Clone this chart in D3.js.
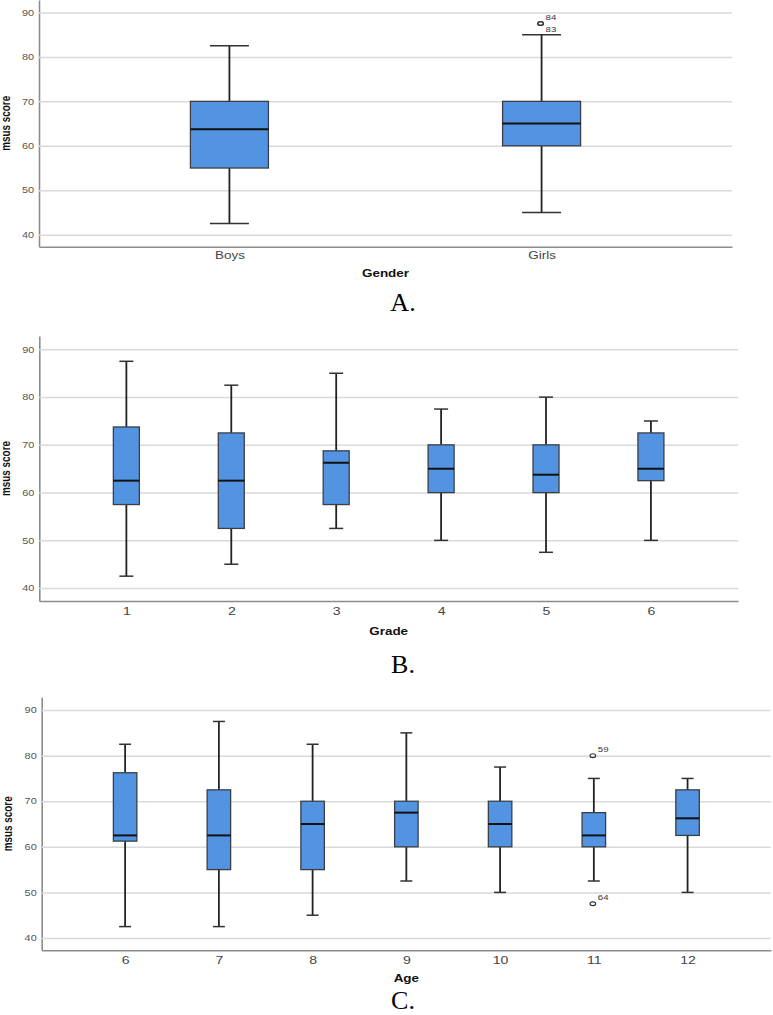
<!DOCTYPE html>
<html><head><meta charset="utf-8">
<script src="https://cdn.jsdelivr.net/npm/d3@7"></script>
<style>
html,body{margin:0;padding:0;background:#fff;}
svg{display:block;}
</style></head>
<body>
<svg id="chart" width="773" height="1015"></svg>
<script>
// ---- Data ----
const yTicks = [40, 50, 60, 70, 80, 90];

const genderCats = ["Boys", "Girls"];
const genderMin = [42.5, 45];
const genderQ1  = [55, 60];
const genderMed = [63.75, 65];
const genderQ3  = [70, 70];
const genderMax = [82.5, 85];
const genderOutCat   = ["Girls", "Girls"];
const genderOutVal   = [87.5, 87.5];
const genderOutLabel = ["84", "83"];

const gradeCats = ["1", "2", "3", "4", "5", "6"];
const gradeMin = [42.5, 45, 52.5, 50, 47.5, 50];
const gradeQ1  = [57.5, 52.5, 57.5, 60, 60, 62.5];
const gradeMed = [62.5, 62.5, 66.25, 65, 63.75, 65];
const gradeQ3  = [73.75, 72.5, 68.75, 70, 70, 72.5];
const gradeMax = [87.5, 82.5, 85, 77.5, 80, 75];

const ageCats = ["6", "7", "8", "9", "10", "11", "12"];
const ageMin = [42.5, 42.5, 45, 52.5, 50, 52.5, 50];
const ageQ1  = [61.25, 55, 55, 60, 60, 60, 62.5];
const ageMed = [62.5, 62.5, 65, 67.5, 65, 62.5, 66.25];
const ageQ3  = [76.25, 72.5, 70, 70, 70, 67.5, 72.5];
const ageMax = [82.5, 87.5, 82.5, 85, 77.5, 75, 75];
const ageOutCat   = ["11", "11"];
const ageOutVal   = [80, 47.5];
const ageOutLabel = ["59", "64"];

// ---- Layout ----
const svg = d3.select("#chart");
const SANS = "'Liberation Sans', Arial, sans-serif";
const STRETCH = 1.28;

function stretch(sel){
  sel.each(function(){
    const w = this.getComputedTextLength();
    if (w > 0) d3.select(this).attr("textLength", w * STRETCH).attr("lengthAdjust", "spacingAndGlyphs");
  });
}

function panel(cfg){
  const g = svg.append("g");
  const y = d3.scaleLinear().domain([37.3, 92.8]).range([cfg.bottom, cfg.top]);
  const x = d3.scalePoint().domain(cfg.cats).range([cfg.left, cfg.right]).padding(cfg.pad);
  const width = cfg.right - cfg.left;

  // gridlines + y axis
  const ya = g.append("g").attr("transform", `translate(${cfg.left},0)`)
    .call(d3.axisLeft(y).tickValues(yTicks).tickSizeInner(-width).tickSizeOuter(0).tickPadding(5).tickFormat(d3.format("d")));
  ya.select(".domain").attr("stroke", "#8c8c8c").attr("stroke-width", 1.6);
  ya.selectAll(".tick line").attr("stroke", "#dadada").attr("stroke-width", 1.5);
  ya.selectAll(".tick text").attr("fill", "#555").style("font-family", SANS).style("font-size", "8.5px");
  stretch(ya.selectAll(".tick text"));

  // x axis
  const xa = g.append("g").attr("transform", `translate(0,${cfg.bottom})`)
    .call(d3.axisBottom(x).tickSize(0).tickPadding(cfg.xPad));
  xa.select(".domain").attr("stroke", "#8c8c8c").attr("stroke-width", 1.6);
  xa.selectAll(".tick text").attr("fill", "#444").style("font-family", SANS).style("font-size", cfg.xFont + "px");
  stretch(xa.selectAll(".tick text"));

  // boxes
  const bw = cfg.boxW, cw = cfg.capW;
  const data = cfg.cats.map((c, i) => ({c, min: cfg.min[i], q1: cfg.q1[i], med: cfg.med[i], q3: cfg.q3[i], max: cfg.max[i]}));
  const bx = g.append("g").selectAll("g").data(data).join("g");
  bx.append("line").attr("x1", d => x(d.c)).attr("x2", d => x(d.c))
    .attr("y1", d => y(d.max)).attr("y2", d => y(d.q3)).attr("stroke", "#222").attr("stroke-width", 1.8);
  bx.append("line").attr("x1", d => x(d.c)).attr("x2", d => x(d.c))
    .attr("y1", d => y(d.q1)).attr("y2", d => y(d.min)).attr("stroke", "#222").attr("stroke-width", 1.8);
  bx.append("line").attr("x1", d => x(d.c) - cw/2).attr("x2", d => x(d.c) + cw/2)
    .attr("y1", d => y(d.max)).attr("y2", d => y(d.max)).attr("stroke", "#333").attr("stroke-width", 1.5);
  bx.append("line").attr("x1", d => x(d.c) - cw/2).attr("x2", d => x(d.c) + cw/2)
    .attr("y1", d => y(d.min)).attr("y2", d => y(d.min)).attr("stroke", "#333").attr("stroke-width", 1.5);
  bx.append("rect").attr("x", d => x(d.c) - bw/2).attr("width", bw)
    .attr("y", d => y(d.q3)).attr("height", d => y(d.q1) - y(d.q3))
    .attr("fill", "#5394e2").attr("stroke", "#3a3f47").attr("stroke-width", 1.3);
  bx.append("line").attr("x1", d => x(d.c) - bw/2).attr("x2", d => x(d.c) + bw/2)
    .attr("y1", d => y(d.med)).attr("y2", d => y(d.med)).attr("stroke", "#111").attr("stroke-width", 2);

  // outliers
  if (cfg.outCat){
    cfg.outCat.forEach((c, i) => {
      const cx = x(c) - 1, cy = y(cfg.outVal[i]);
      g.append("ellipse").attr("cx", cx).attr("cy", cy).attr("rx", 2.8).attr("ry", 1.9)
        .attr("fill", "none").attr("stroke", "#333").attr("stroke-width", 1.2);
      const dy = cfg.outDy[i];
      const t = g.append("text").attr("x", cx + 5).attr("y", cy + dy).text(cfg.outLabel[i])
        .attr("fill", "#333").style("font-family", SANS).style("font-size", "7.5px");
      stretch(t);
    });
  }

  // y title
  g.append("text")
    .attr("transform", `translate(${cfg.left - 29.5},${(cfg.top + cfg.bottom)/2}) rotate(-90)`)
    .attr("text-anchor", "middle").text("msus score")
    .attr("fill", "#111").style("font-family", SANS).style("font-size", "12px").style("font-weight", "bold")
    .attr("textLength", 55).attr("lengthAdjust", "spacingAndGlyphs");

  // x title
  const xt = g.append("text").attr("x", (cfg.left + cfg.right)/2).attr("y", cfg.bottom + cfg.titleDy)
    .attr("text-anchor", "middle").text(cfg.xTitle)
    .attr("fill", "#111").style("font-family", SANS).style("font-size", "10.5px").style("font-weight", "bold");
  stretch(xt);

  // panel letter
  svg.append("text").attr("x", 403).attr("y", cfg.letterY).attr("text-anchor", "middle")
    .text(cfg.letter).attr("fill", "#000")
    .style("font-family", "'Liberation Serif', 'Times New Roman', serif").style("font-size", "26px");
}

panel({cats: genderCats, min: genderMin, q1: genderQ1, med: genderMed, q3: genderQ3, max: genderMax,
  outCat: genderOutCat, outVal: genderOutVal, outLabel: genderOutLabel, outDy: [-3.5, 8.5],
  top: 0, bottom: 246.7, left: 39, right: 732, pad: 0.61, boxW: 78, capW: 39,
  xFont: 10.5, xPad: 5, xTitle: "Gender", titleDy: 30.5, letter: "A.", letterY: 311});

panel({cats: gradeCats, min: gradeMin, q1: gradeQ1, med: gradeMed, q3: gradeQ3, max: gradeMax,
  top: 336, bottom: 601, left: 39.3, right: 738, pad: 0.83, boxW: 26, capW: 14,
  xFont: 11, xPad: 6, xTitle: "Grade", titleDy: 34, letter: "B.", letterY: 673});

panel({cats: ageCats, min: ageMin, q1: ageQ1, med: ageMed, q3: ageQ3, max: ageMax,
  outCat: ageOutCat, outVal: ageOutVal, outLabel: ageOutLabel, outDy: [-4, -3.5],
  top: 697.3, bottom: 950.3, left: 41.7, right: 771, pad: 0.89, boxW: 23.5, capW: 12,
  xFont: 11, xPad: 6, xTitle: "Age", titleDy: 31.5, letter: "C.", letterY: 1009});
</script>
</body></html>
